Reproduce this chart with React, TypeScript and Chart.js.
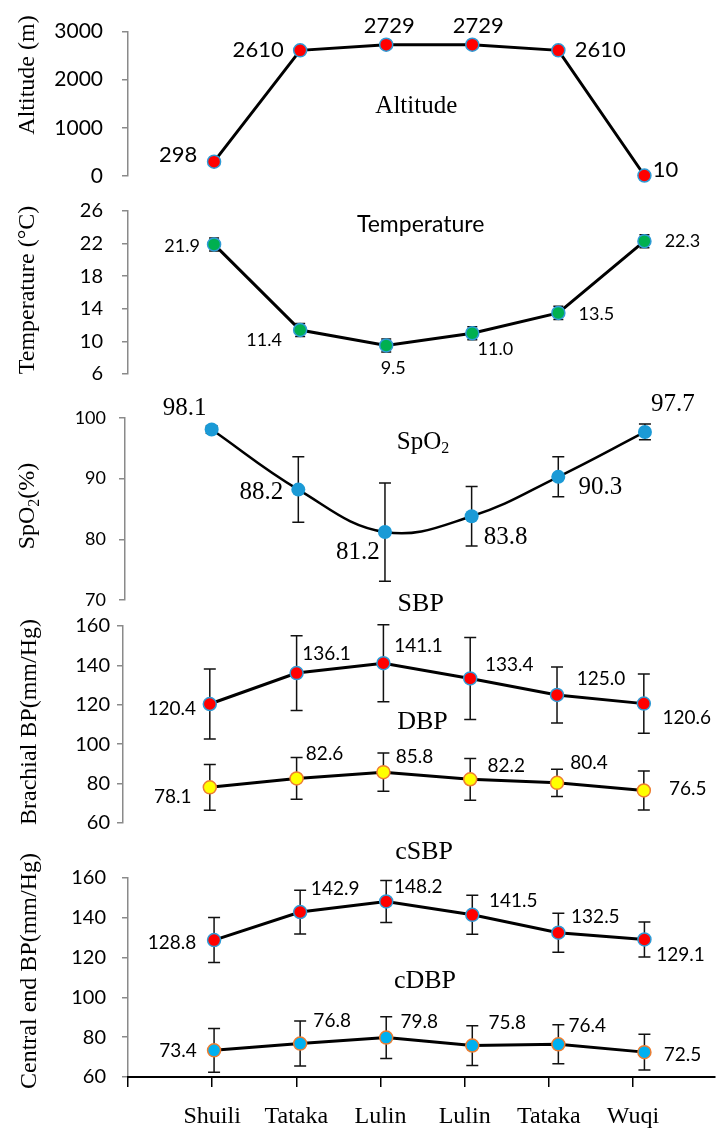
import React, { useEffect, useRef } from 'react';
import { Chart, registerables } from 'chart.js';

Chart.register(...registerables);

const W = 723;
const H = 1131;
const SANS = 'Lato, "Liberation Sans", sans-serif';
const SERIF = '"Liberation Serif", "Times New Roman", serif';

// ---------------- data ----------------
const categories = ['Shuili', 'Tataka', 'Lulin', 'Lulin', 'Tataka', 'Wuqi'];
const xTickValues = [-1, 0, 1, 2, 3, 4, 5];

const altitude = [298, 2610, 2729, 2729, 2610, 10];
const altitudeTicks = [0, 1000, 2000, 3000];

const temperature = [21.9, 11.4, 9.5, 11.0, 13.5, 22.3];
const temperatureSD = [0.8, 0.8, 0.8, 0.8, 0.8, 0.8];
const temperatureTicks = [6, 10, 14, 18, 22, 26];

const spo2 = [98.1, 88.2, 81.2, 83.8, 90.3, 97.7];
const spo2SD = [0.6, 5.4, 8.1, 4.9, 3.3, 1.3];
const spo2Ticks = [70, 80, 90, 100];

const sbp = [120.4, 136.1, 141.1, 133.4, 125.0, 120.6];
const sbpSD = [17.8, 19.0, 19.5, 20.8, 14.2, 15.0];
const dbp = [78.1, 82.6, 85.8, 82.2, 80.4, 76.5];
const dbpSD = [11.6, 10.6, 9.7, 10.6, 6.9, 9.9];

const csbp = [128.8, 142.9, 148.2, 141.5, 132.5, 129.1];
const csbpSD = [11.3, 11.0, 10.5, 9.8, 9.8, 8.8];
const cdbp = [73.4, 76.8, 79.8, 75.8, 76.4, 72.5];
const cdbpSD = [11.0, 11.3, 10.5, 10.0, 9.8, 9.0];

const bpTicks = [60, 80, 100, 120, 140, 160];

// ---------------- label placement (offset of label centre from its point) ----------------
const altLabelOffsets: [number, number][] = [[-36, -7], [-42, 0], [3, -19], [6, -19], [42, 0], [21, -6]];
const tempLabelOffsets: [number, number][] = [[-32, 2], [-36, 10], [7, 23], [23, 16], [38, 1], [38, 0]];
const spo2LabelOffsets: [number, number][] = [[-27, -21], [-37, 3], [-27, 20], [34, 21], [42, 11], [28, -28]];
const sbpLabelOffsets: [number, number][] = [[-38, 5], [30, -19], [35, -17], [39, -14], [44, -16], [43, 14]];
const dbpLabelOffsets: [number, number][] = [[-37, 10], [28, -25], [31, -15], [36, -13], [32, -20], [44, -2]];
const csbpLabelOffsets: [number, number][] = [[-42, 3], [35, -23], [32, -15], [41, -14], [37, -16], [36, 15]];
const cdbpLabelOffsets: [number, number][] = [[-36, 1], [32, -23], [33, -16], [35, -23], [29, -18], [38, 3]];

// ---------------- styles ----------------
const RED = '#FF0000';
const EDGE_BLUE = '#2E9BD6';
const GREEN = '#00B050';
const SPO2_BLUE = '#1B9AD6';
const YELLOW = '#FFFF00';
const ORANGE = '#ED7D31';
const CYAN = '#00B0F0';
const AXIS_GRAY = '#8A8A8A';

type Seg = { t: string; sub?: boolean };
interface SeriesCfg {
  values: number[];
  sd?: number[];
  fill: string;
  edge: string;
  radius: number;
  edgeWidth: number;
  offsets: [number, number][];
}
interface TitleCfg { segs: Seg[]; x: number; y: number; size: number; family: string }
interface PanelCfg {
  top: number;
  bottom: number;
  axisX: number;
  ticks: number[];
  tickSize: number;
  tickPad: number;
  labelFamily: string;
  labelSize: number;
  decimals: number;
  lineWidth: number;
  tension: number;
  cap: number;
  series: SeriesCfg[];
  titles: TitleCfg[];
  axisTitle: { segs: Seg[]; x: number; y: number; size: number };
  showX: boolean;
}

const panels: PanelCfg[] = [
  {
    top: 26, bottom: 176, axisX: 128, ticks: altitudeTicks, tickSize: 21, tickPad: 19,
    labelFamily: SANS, labelSize: 22, decimals: 0, lineWidth: 3, tension: 0, cap: 6,
    series: [{ values: altitude, fill: RED, edge: EDGE_BLUE, radius: 6.5, edgeWidth: 1.5, offsets: altLabelOffsets }],
    titles: [{ segs: [{ t: 'Altitude' }], x: 2.35, y: 1440, size: 25, family: SERIF }],
    axisTitle: { segs: [{ t: 'Altitude (m)' }], x: 28, y: 75, size: 24 },
    showX: false,
  },
  {
    top: 211, bottom: 374, axisX: 128, ticks: temperatureTicks, tickSize: 20, tickPad: 19,
    labelFamily: SANS, labelSize: 18, decimals: 1, lineWidth: 3, tension: 0, cap: 5,
    series: [{ values: temperature, sd: temperatureSD, fill: GREEN, edge: EDGE_BLUE, radius: 6.5, edgeWidth: 1.5, offsets: tempLabelOffsets }],
    titles: [{ segs: [{ t: 'Temperature' }], x: 2.4, y: 24.3, size: 23, family: SANS }],
    axisTitle: { segs: [{ t: 'Temperature (°C)' }], x: 28, y: 290, size: 24 },
    showX: false,
  },
  {
    top: 418, bottom: 600, axisX: 125, ticks: spo2Ticks, tickSize: 18, tickPad: 13,
    labelFamily: SERIF, labelSize: 25, decimals: 1, lineWidth: 2.5, tension: 0.4, cap: 6,
    series: [{ values: spo2, sd: spo2SD, fill: SPO2_BLUE, edge: SPO2_BLUE, radius: 7, edgeWidth: 0, offsets: spo2LabelOffsets }],
    titles: [{ segs: [{ t: 'SpO' }, { t: '2', sub: true }], x: 2.44, y: 96, size: 25, family: SERIF }],
    axisTitle: { segs: [{ t: 'SpO' }, { t: '2', sub: true }, { t: '(%)' }], x: 28, y: 506, size: 24 },
    showX: false,
  },
  {
    top: 626, bottom: 823, axisX: 123, ticks: bpTicks, tickSize: 20, tickPad: 7,
    labelFamily: SANS, labelSize: 19, decimals: 1, lineWidth: 3, tension: 0, cap: 6,
    series: [
      { values: sbp, sd: sbpSD, fill: RED, edge: EDGE_BLUE, radius: 6.5, edgeWidth: 1.5, offsets: sbpLabelOffsets },
      { values: dbp, sd: dbpSD, fill: YELLOW, edge: ORANGE, radius: 6.5, edgeWidth: 1.5, offsets: dbpLabelOffsets },
    ],
    titles: [
      { segs: [{ t: 'SBP' }], x: 2.43, y: 171, size: 26, family: SERIF },
      { segs: [{ t: 'DBP' }], x: 2.45, y: 111.3, size: 26, family: SERIF },
    ],
    axisTitle: { segs: [{ t: 'Brachial BP(mm/Hg)' }], x: 30, y: 722, size: 24 },
    showX: false,
  },
  {
    top: 878, bottom: 1077, axisX: 128, ticks: bpTicks, tickSize: 20, tickPad: 16,
    labelFamily: SANS, labelSize: 19, decimals: 1, lineWidth: 3, tension: 0, cap: 6,
    series: [
      { values: csbp, sd: csbpSD, fill: RED, edge: EDGE_BLUE, radius: 6.5, edgeWidth: 1.5, offsets: csbpLabelOffsets },
      { values: cdbp, sd: cdbpSD, fill: CYAN, edge: ORANGE, radius: 6.5, edgeWidth: 1.5, offsets: cdbpLabelOffsets },
    ],
    titles: [
      { segs: [{ t: 'cSBP' }], x: 2.44, y: 173, size: 26, family: SERIF },
      { segs: [{ t: 'cDBP' }], x: 2.45, y: 108.2, size: 26, family: SERIF },
    ],
    axisTitle: { segs: [{ t: 'Central end BP(mm/Hg)' }], x: 30, y: 971, size: 24 },
    showX: true,
  },
];

function drawRich(ctx: CanvasRenderingContext2D, segs: Seg[], x: number, y: number, size: number, family: string, rotate: boolean) {
  ctx.save();
  ctx.translate(x, y);
  if (rotate) ctx.rotate(-Math.PI / 2);
  ctx.textBaseline = 'middle';
  ctx.textAlign = 'left';
  ctx.fillStyle = '#000';
  const fontFor = (s: Seg) => `${s.sub ? Math.round(size * 0.65) : size}px ${family}`;
  const widths = segs.map((s) => {
    ctx.font = fontFor(s);
    return ctx.measureText(s.t).width;
  });
  let cx = -widths.reduce((a, b) => a + b, 0) / 2;
  segs.forEach((s, i) => {
    ctx.font = fontFor(s);
    ctx.fillText(s.t, cx, s.sub ? size * 0.28 : 0);
    cx += widths[i];
  });
  ctx.restore();
}

function makeOverlay(p: PanelCfg, idx: number) {
  return {
    id: 'overlay' + idx,
    beforeDatasetsDraw(chart: any) {
      const ctx: CanvasRenderingContext2D = chart.ctx;
      const xs = chart.scales.x;
      const ys = chart.scales.y;
      ctx.save();
      ctx.strokeStyle = '#111';
      ctx.lineWidth = 1.5;
      p.series.forEach((s) => {
        if (!s.sd) return;
        s.values.forEach((v, i) => {
          const px = xs.getPixelForValue(i);
          const t = ys.getPixelForValue(v + s.sd![i]);
          const b = ys.getPixelForValue(v - s.sd![i]);
          ctx.beginPath();
          ctx.moveTo(px, t);
          ctx.lineTo(px, b);
          ctx.moveTo(px - p.cap, t);
          ctx.lineTo(px + p.cap, t);
          ctx.moveTo(px - p.cap, b);
          ctx.lineTo(px + p.cap, b);
          ctx.stroke();
        });
      });
      ctx.restore();
    },
    afterDatasetsDraw(chart: any) {
      const ctx: CanvasRenderingContext2D = chart.ctx;
      const xs = chart.scales.x;
      const ys = chart.scales.y;
      ctx.save();
      ctx.fillStyle = '#000';
      ctx.textAlign = 'center';
      ctx.textBaseline = 'middle';
      ctx.font = `${p.labelSize}px ${p.labelFamily}`;
      p.series.forEach((s) => {
        s.values.forEach((v, i) => {
          const px = xs.getPixelForValue(i) + s.offsets[i][0];
          const py = ys.getPixelForValue(v) + s.offsets[i][1];
          ctx.fillText(v.toFixed(p.decimals), px, py);
        });
      });
      ctx.restore();
      p.titles.forEach((t) => {
        drawRich(ctx, t.segs, xs.getPixelForValue(t.x), ys.getPixelForValue(t.y), t.size, t.family, false);
      });
      drawRich(ctx, p.axisTitle.segs, p.axisTitle.x, p.axisTitle.y, p.axisTitle.size, SERIF, true);
    },
  };
}

function buildChart(canvas: HTMLCanvasElement, p: PanelCfg, idx: number) {
  const datasets = p.series.map((s) => ({
    data: s.values.map((v, i) => ({ x: i, y: v })),
    borderColor: '#000',
    borderWidth: p.lineWidth,
    tension: p.tension,
    pointRadius: s.radius,
    pointBackgroundColor: s.fill,
    pointBorderColor: s.edge,
    pointBorderWidth: s.edgeWidth,
    fill: false,
    clip: false as any,
    xAxisID: 'x',
    yAxisID: 'y',
  }));

  const scales: any = {
    x: {
      type: 'linear',
      display: false,
      min: -1,
      max: 5.82,
    },
    y: {
      type: 'linear',
      position: 'left',
      min: p.ticks[0],
      max: p.ticks[p.ticks.length - 1],
      afterBuildTicks: (s: any) => {
        s.ticks = p.ticks.map((v) => ({ value: v }));
      },
      afterFit: (s: any) => {
        s.width = p.axisX;
      },
      ticks: {
        callback: (v: any) => String(v),
        font: { family: SANS, size: p.tickSize },
        color: '#000',
        padding: p.tickPad,
      },
      grid: {
        drawOnChartArea: false,
        drawTicks: true,
        tickLength: 6,
        color: AXIS_GRAY,
        lineWidth: 1.5,
      },
      border: { display: true, color: AXIS_GRAY, width: 1.5 },
    },
  };

  if (p.showX) {
    scales.xt = {
      type: 'linear',
      position: 'bottom',
      min: -1,
      max: 5.975,
      afterBuildTicks: (s: any) => {
        s.ticks = xTickValues.map((v) => ({ value: v }));
      },
      afterFit: (s: any) => {
        s.height = H - p.bottom;
      },
      ticks: {
        callback: (v: any) => categories[v] ?? '',
        font: { family: SERIF, size: 24 },
        color: '#000',
        padding: 15,
        autoSkip: false,
        maxRotation: 0,
      },
      grid: {
        drawOnChartArea: false,
        drawTicks: true,
        tickLength: 10,
        color: '#000',
        lineWidth: 1.5,
      },
      border: { display: true, color: '#000', width: 2 },
    };
  }

  return new Chart(canvas, {
    type: 'line',
    data: { datasets: datasets as any },
    options: {
      responsive: false,
      animation: false,
      devicePixelRatio: 1,
      events: [],
      layout: {
        padding: { left: 0, right: 0, top: p.top, bottom: p.showX ? 0 : H - p.bottom },
      },
      plugins: {
        legend: { display: false },
        tooltip: { enabled: false },
        title: { display: false },
      },
      scales,
    } as any,
    plugins: [makeOverlay(p, idx)],
  });
}

export default function App() {
  const refs = useRef<(HTMLCanvasElement | null)[]>([]);

  useEffect(() => {
    const charts = panels.map((p, i) => buildChart(refs.current[i] as HTMLCanvasElement, p, i));
    return () => charts.forEach((c) => c.destroy());
  }, []);

  return (
    <div style={{ position: 'absolute', left: 0, top: 0, width: W, height: H, background: '#fff', overflow: 'hidden' }}>
      {panels.map((_, i) => (
        <canvas
          key={i}
          ref={(el) => { refs.current[i] = el; }}
          width={W}
          height={H}
          style={{ position: 'absolute', left: 0, top: 0, width: W, height: H, display: 'block' }}
        />
      ))}
    </div>
  );
}
